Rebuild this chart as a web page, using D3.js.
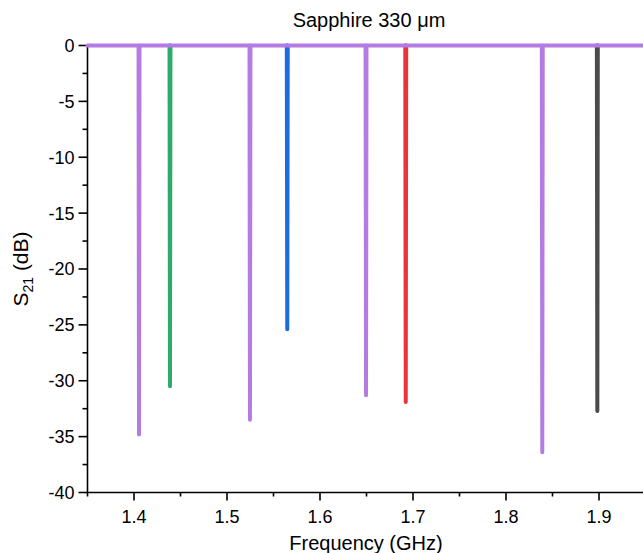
<!DOCTYPE html>
<html>
<head>
<meta charset="utf-8">
<script src="https://cdn.jsdelivr.net/npm/d3@7"></script>
<style>
  body { margin: 0; background: #fff; }
  text { font-family: "Liberation Sans", Arial, sans-serif; fill: #000; }
</style>
</head>
<body>
<svg id="chart" width="643" height="553"></svg>
<script>
// S21 traces, one per resonator sample (GHz, dB)
const purpleFreq = [1.35, 1.4049, 1.4054, 1.4059, 1.5242, 1.5247, 1.5252, 1.6490, 1.6495, 1.6500, 1.8385, 1.8390, 1.8395, 1.95];
const purpleS21  = [0, 0, -34.8, 0, 0, -33.5, 0, 0, -31.3, 0, 0, -36.4, 0, 0];

const greenFreq = [1.4382, 1.4387, 1.4392];
const greenS21  = [0, -30.5, 0];

const blueFreq = [1.5643, 1.5648, 1.5653];
const blueS21  = [0, -25.4, 0];

const redFreq = [1.6917, 1.6922, 1.6927];
const redS21  = [0, -31.9, 0];

const greyFreq = [1.8977, 1.8982, 1.8987];
const greyS21  = [0, -32.7, 0];

const xTicks = [1.4, 1.5, 1.6, 1.7, 1.8, 1.9];
const yTicks = [0, -5, -10, -15, -20, -25, -30, -35, -40];

const svg = d3.select("#chart");

const x = d3.scaleLinear().domain([1.35, 1.95]).range([87.5, 645.5]);
const y = d3.scaleLinear().domain([-40, 0]).range([492.5, 45.5]);

// axes
const xAxis = svg.append("g").attr("transform", "translate(0," + y(-40) + ")");
xAxis.append("line")
    .attr("x1", x(1.35)).attr("x2", 645)
    .attr("stroke", "#000").attr("stroke-width", 1.6);
xAxis.selectAll(".minor")
    .data(d3.range(1.35, 1.96, 0.05))
    .join("line")
    .attr("x1", d => x(d)).attr("x2", d => x(d))
    .attr("y1", 0).attr("y2", d => Math.abs(Math.round(d * 10) / 10 - d) < 1e-6 ? 8 : 4)
    .attr("stroke", "#000").attr("stroke-width", 1.6);
xAxis.selectAll(".lbl")
    .data(xTicks)
    .join("text")
    .attr("x", d => x(d)).attr("y", 30)
    .attr("text-anchor", "middle")
    .style("font-size", "18px")
    .text(d => d3.format(".1f")(d));

const yAxis = svg.append("g").attr("transform", "translate(" + x(1.35) + ",0)");
yAxis.append("line")
    .attr("y1", y(0)).attr("y2", y(-40) + 0.8)
    .attr("stroke", "#000").attr("stroke-width", 1.6);
yAxis.selectAll(".tk")
    .data(d3.range(0, -40.1, -2.5))
    .join("line")
    .attr("y1", d => y(d)).attr("y2", d => y(d))
    .attr("x1", d => d % 5 === 0 ? -9 : -5).attr("x2", 0)
    .attr("stroke", "#000").attr("stroke-width", 1.6);
yAxis.selectAll(".lbl")
    .data(yTicks)
    .join("text")
    .attr("x", -13).attr("y", d => y(d))
    .attr("dy", "0.36em")
    .attr("text-anchor", "end")
    .style("font-size", "18px")
    .text(d => d);

// axis titles
svg.append("text")
    .attr("x", 366).attr("y", 550)
    .attr("text-anchor", "middle")
    .style("font-size", "20px")
    .text("Frequency (GHz)");

const yTitle = svg.append("text")
    .attr("transform", "translate(28," + ((y(0) + y(-40)) / 2) + ") rotate(-90)")
    .attr("text-anchor", "middle")
    .style("font-size", "21px");
yTitle.append("tspan").text("S");
yTitle.append("tspan").attr("dy", 5).style("font-size", "14px").text("21");
yTitle.append("tspan").attr("dy", -5).text(" (dB)");

svg.append("text")
    .attr("x", 369).attr("y", 27)
    .attr("text-anchor", "middle")
    .style("font-size", "20px")
    .text("Sapphire 330 \u03bcm");

// traces
const line = d3.line().x(d => x(d[0])).y(d => y(d[1]));

const traces = [
    { f: greenFreq, s: greenS21, color: "#2eaa6c" },
    { f: blueFreq, s: blueS21, color: "#1c6be0" },
    { f: redFreq, s: redS21, color: "#ea3439" },
    { f: greyFreq, s: greyS21, color: "#4b4b4b" },
    { f: purpleFreq, s: purpleS21, color: "#b47be2" }
];

svg.selectAll(".trace")
    .data(traces)
    .join("path")
    .attr("class", "trace")
    .attr("d", d => line(d.f.map((v, i) => [v, d.s[i]])))
    .attr("fill", "none")
    .attr("stroke", d => d.color)
    .attr("stroke-width", 4)
    .attr("stroke-linejoin", "round")
    .attr("stroke-linecap", "round");
</script>
</body>
</html>
